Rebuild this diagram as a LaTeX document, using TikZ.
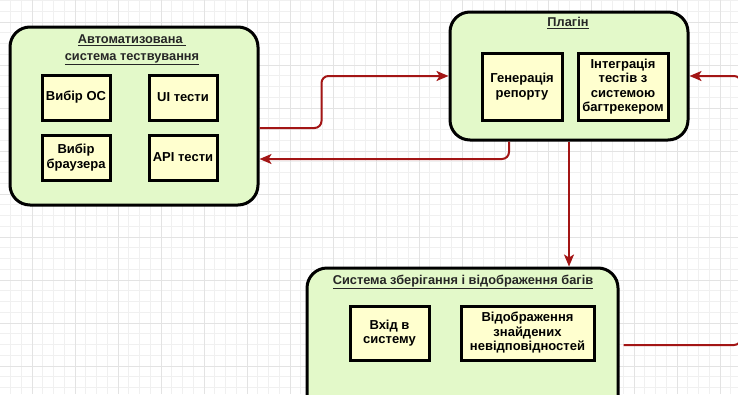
\documentclass[tikz,border=0pt]{standalone}
\usepackage{fontspec}
\setmainfont{Liberation Sans}
\usetikzlibrary{arrows.meta}
\definecolor{panelgreen}{HTML}{E3F9C9}
\definecolor{cellyellow}{HTML}{FFFFCF}
\definecolor{wirered}{HTML}{A31515}

\begin{document}
\begin{tikzpicture}[x=1pt,y=-1pt,
    panel/.style={draw=black,line width=3pt,rounded corners=20pt,fill=panelgreen,inner sep=0pt},
    cell/.style={draw=black,line width=3pt,fill=cellyellow,align=center,inner sep=1pt,
      font=\bfseries\fontsize{13}{14.5}\selectfont},
    title/.style={align=center,font=\bfseries\fontsize{12.8}{14}\selectfont,text=black!85},
    wire/.style={draw=wirered,line width=2pt,rounded corners=7pt,
      -{Stealth[length=12pt,width=10pt,inset=3pt]}}]
  \useasboundingbox (0,0) rectangle (738,394);
  \fill[white] (0,0) rectangle (738,394);
  \foreach \k in {-3,...,66}
    \draw[black!6,line width=0.8pt] ({32+10.75*\k},0) -- ({32+10.75*\k},394);
  \foreach \k in {-2,...,35}
    \draw[black!6,line width=0.8pt] (0,{22+10.75*\k}) -- (738,{22+10.75*\k});
  \foreach \k in {-1,...,16}
    \draw[black!11,line width=1pt] ({32+43*\k},0) -- ({32+43*\k},394);
  \foreach \k in {-1,...,9}
    \draw[black!11,line width=1pt] (0,{22+43*\k}) -- (738,{22+43*\k});

  \node[panel,minimum width=248pt,minimum height=178pt] (auto) at (134,116) {};
  \node[panel,minimum width=238pt,minimum height=128pt] (plugin) at (569,76) {};
  \node[panel,minimum width=311pt,minimum height=154pt] (bugs) at (462.5,345) {};

  \node[title] (autotitle) at (132,50) {\underline{Автоматизована\ }\\[3pt]\underline{система тествування}};
  \node[title] (plugintitle) at (568,23) {\underline{Плагін}};
  \node[title] (bugstitle) at (463,282) {\underline{Система зберігання і відображення багів}};

  \node[cell,minimum width=68pt,minimum height=45pt] (os) at (76,97.5) {Вибір ОС};
  \node[cell,minimum width=68pt,minimum height=45pt] (ui) at (183,97.5) {UI тести};
  \node[cell,minimum width=68pt,minimum height=45pt] (browser) at (76,157.5) {Вибір\\браузера};
  \node[cell,minimum width=68pt,minimum height=45pt] (api) at (183,157.5) {API тести};
  \node[cell,minimum width=80pt,minimum height=67pt] (report) at (522,86.5) {Генерація\\репорту};
  \node[cell,minimum width=90pt,minimum height=67pt] (tracker) at (623,86.5) {Інтеграція\\тестів з\\системою\\багтрекером};
  \node[cell,minimum width=79pt,minimum height=54pt] (login) at (389.5,333) {Вхід в\\систему};
  \node[cell,minimum width=133pt,minimum height=54pt] (found) at (527.5,333) {Відображення\\знайдених\\невідповідностей};

  \coordinate (bend) at (741,76);
  \draw[wire] ([yshift=-12pt]auto.east) -- ++(62,0) |- (plugin.west);
  \draw[wire] ([xshift=-60pt]plugin.south) |- ([yshift=-43pt]auto.east);
  \draw[wire] (plugin.south) -- (plugin.south |- bugs.north);
  \draw[wire] ([xshift=4pt]bugs.east) -| (bend) -- (plugin.east);
\end{tikzpicture}
\end{document}
